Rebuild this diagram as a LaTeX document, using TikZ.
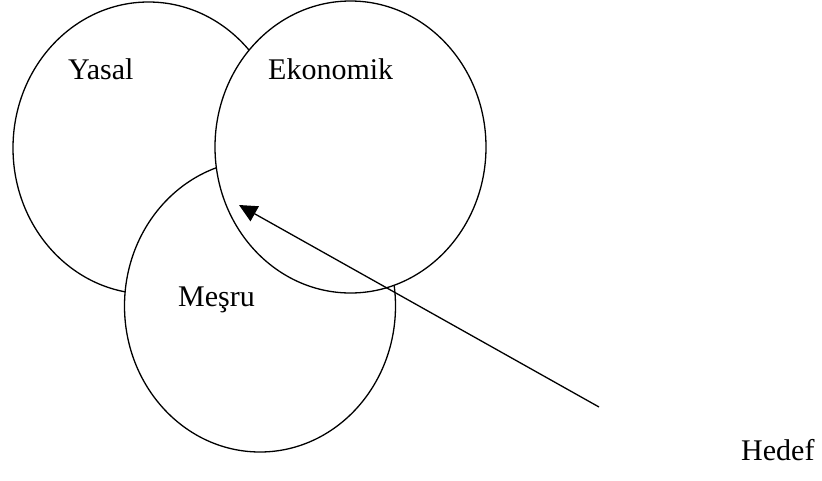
\documentclass[tikz,border=0pt]{standalone}
\usepackage{fontspec}
\setmainfont{Liberation Serif}
\usetikzlibrary{shapes.geometric,arrows.meta}
\tikzset{
  setbox/.style={ellipse, draw=black, fill=white, line width=1.3pt, inner sep=0pt,
    minimum width=271pt, minimum height=292pt},
  lbl/.style={anchor=base west, inner sep=0pt, font=\fontsize{30}{36}\selectfont},
  pointer/.style={line width=1.3pt, -{Triangle[length=18pt, width=17pt]}}
}
\begin{document}
\begin{tikzpicture}[x=1pt, y=-1pt]
\useasboundingbox (0,0) rectangle (822,480);
\node[setbox] (yasal) at (148.5,148) {};
\node[setbox] (mesru) at (260,306) {};
\node[setbox] (ekonomik) at (350.5,147) {};
\node[lbl] (tyasal) at (68,79) {Yasal};
\node[lbl] (tekonomik) at (268,79) {Ekonomik};
\node[lbl] (tmesru) at (178,306) {Meşru};
\node[lbl] (thedef) at (741,460) {Hedef};
\coordinate (tail) at (599,407);
\coordinate (tip) at (239,205);
\draw[pointer] (tail) -- (tip);
\end{tikzpicture}
\end{document}
